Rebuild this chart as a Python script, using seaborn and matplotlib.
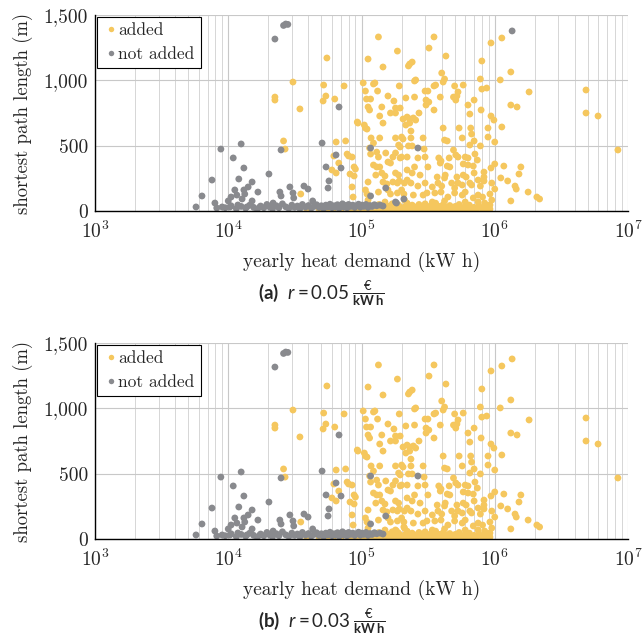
import numpy as np
import pandas as pd
import matplotlib
matplotlib.use("Agg")
import matplotlib.pyplot as plt
import matplotlib.ticker as mticker
import seaborn as sns

# ---------------- data (yearly heat demand in kWh, shortest path length in m) -------------
# points that are added in both scenarios
added_x = [
    55000, 30600, 52000, 74000, 22400, 22400, 54000, 51500, 63000, 34500, 94000, 26000, 26700,
    64500, 76000, 62000, 78000, 80000, 85000, 67500, 60000, 64500, 88000, 90000, 82000, 88000,
    85000, 86500, 35000, 39000,
    1130000, 937000, 1320000, 1100000, 1810000, 4840000, 4840000, 5960000, 8400000, 1320000,
    1470000, 937000, 985000, 1130000, 1000000, 1000000, 937000, 1170000, 1570000, 1520000,
    1110000, 1250000, 1420000, 1450000, 1000000, 1780000, 2070000, 2170000, 1320000, 920000, 920000,
    134000, 350000, 186000, 321000, 112000, 145000, 230000, 240000, 225000, 430000, 800000,
    400000, 420000, 410000, 250000, 255000, 103000, 107000, 126000, 123000, 192000, 300000,
    315000, 350000, 360000, 500000, 580000, 780000, 800000, 870000, 132000, 109000, 117000,
    158000, 215000, 250000, 305000, 320000, 305000, 390000, 490000, 510000, 530000, 520000,
    700000, 630000, 650000, 790000, 175000, 112000, 115000, 142000, 180000, 195000, 165000,
    180000, 137000, 205000, 220000, 230000, 245000, 255000, 270000, 350000, 145000, 105000,
    107000, 93000, 215000, 230000, 410000, 890000, 540000, 660000, 110000, 235000, 180000,
    200000, 205000, 235000, 290000, 118000, 123000, 137000, 420000, 440000, 570000, 670000,
    700000, 890000, 190000, 195000, 225000, 240000, 295000, 650000, 780000, 490000, 117000,
    115000, 130000, 134000, 152000, 172000, 180000, 158000, 165000, 200000, 195000, 220000,
    265000, 300000, 380000, 395000, 390000, 455000, 510000, 530000, 600000, 630000, 710000,
    740000, 580000, 630000, 690000, 460000, 440000, 315000, 250000, 123000, 130000, 137000,
    180000, 190000, 220000, 240000, 275000, 128000, 142000, 150000, 370000, 425000, 420000,
    520000, 580000, 610000, 700000, 830000, 830000, 112000, 145000, 155000, 172000, 186000,
    192000, 210000, 220000, 235000, 265000, 300000, 340000, 375000, 400000, 475000, 500000,
    530000, 570000, 650000, 670000, 750000, 780000, 830000, 950000, 107000, 110000, 134000,
    158000, 165000, 186000, 200000, 208000, 245000, 290000, 310000, 355000, 395000, 445000,
    500000, 570000, 600000, 690000, 750000, 810000, 112000, 150000, 210000, 340000, 420000,
    600000, 750000, 840000, 950000,
    40000, 48000, 55000, 62000, 70000, 78000, 85000, 92000, 98000, 102000, 106000, 110000,
    114000, 118000, 122000, 126000, 130000, 135000, 140000, 145000, 150000, 155000, 160000,
    165000, 170000, 175000, 180000, 185000, 190000, 195000, 200000, 210000, 215000, 220000,
    225000, 232000, 240000, 248000, 255000, 262000, 270000, 278000, 285000, 292000, 300000,
    310000, 320000, 330000, 340000, 350000, 360000, 372000, 385000, 398000, 410000, 422000,
    435000, 448000, 460000, 475000, 490000, 505000, 520000, 540000, 560000, 580000, 600000,
    620000, 645000, 670000, 700000, 730000, 760000, 800000, 840000, 880000, 920000,
]
added_y = [
    1171, 987, 964, 957, 872, 849, 880, 842, 857, 781, 673, 536, 474,
    528, 536, 421, 436, 421, 413, 367, 314, 291, 337, 321, 283, 268,
    184, 107, 130, 5,
    1324, 1286, 1064, 1003, 911, 926, 750, 727, 467, 811,
    796, 727, 696, 643, 528, 360, 329, 344, 337, 283,
    253, 230, 191, 168, 168, 145, 107, 92, 77, 130, 46,
    1332, 1332, 1224, 1247, 1163, 1102, 1125, 1140, 1110, 1186, 1148,
    1056, 1010, 987, 995, 1003, 980, 918, 980, 972, 957, 918,
    918, 957, 964, 957, 964, 1010, 933, 941, 918, 857, 857,
    880, 865, 872, 849, 834, 811, 872, 872, 849, 911, 880,
    849, 811, 742, 773, 842, 796, 773, 796, 788, 788, 750,
    750, 727, 704, 719, 704, 712, 696, 750, 773, 673, 658,
    635, 681, 658, 673, 635, 635, 635, 635, 627, 612, 559,
    566, 551, 559, 559, 559, 520, 559, 543, 536, 559, 589,
    536, 566, 505, 490, 498, 498, 474, 505, 498, 467, 436,
    482, 451, 413, 444, 413, 444, 375, 367, 413, 406, 413,
    406, 413, 406, 383, 367, 406, 429, 413, 413, 406, 436,
    390, 360, 352, 344, 337, 344, 337, 337, 352, 337, 337,
    291, 275, 314, 291, 275, 275, 291, 268, 260, 275, 253,
    260, 275, 260, 291, 298, 260, 222, 222, 207, 222, 214,
    230, 214, 237, 214, 191, 214, 184, 214, 191, 214, 176,
    214, 199, 214, 199, 237, 191, 230, 214, 161, 130, 145,
    161, 130, 138, 161, 130, 122, 122, 138, 138, 145, 107,
    138, 122, 145, 100, 122, 107, 84, 69, 84, 69, 77,
    69, 69, 61, 84,
    8, 15, 5, 20, 10, 25, 8, 18, 30, 5, 15, 40,
    10, 25, 5, 35, 15, 50, 8, 25, 12, 40, 5,
    20, 55, 10, 30, 15, 45, 5, 25, 12, 38, 60,
    8, 22, 45, 15, 30, 5, 50, 20, 35, 10, 55,
    25, 8, 40, 15, 28, 60, 10, 35, 20, 48, 5,
    30, 15, 42, 22, 8, 35, 15, 50, 25, 10, 38,
    18, 45, 8, 28, 15, 40, 20, 10, 30, 15,
]

# points that are not added in either scenario
not_added_x = [
    27000, 26000, 28000, 22400, 8800, 12500, 10900, 13100, 7550, 6350, 5730, 7940, 20200,
    24900, 50600, 67800, 64400, 54200, 70200, 57000, 56100, 12000, 15100, 14100, 11200,
    13100, 16700, 11600, 13300, 10500, 10000, 12700, 15100, 9000, 8200, 10300, 11800,
    13800, 17300, 21700, 24400, 24900, 29000, 30600, 37000, 39700, 31000, 43000, 117000,
    265000, 152000, 117000,
    9500, 10500, 11500, 12500, 13500, 14500, 15500, 16500, 17500, 18500, 19500, 20500,
    21500, 23000, 24000, 25500, 27000, 28500, 30000, 31500, 33000, 34500, 36000, 38000,
    40000, 42000, 44000, 46000, 48000, 50000, 52000, 54000, 56000, 58000, 60000, 62000,
    64000, 66000, 68000, 70000, 72000, 74000, 76000, 78000, 80000, 83000, 86000, 89000,
    92000, 95000, 98000, 101000, 104000, 108000, 112000, 116000, 120000, 125000, 130000,
    138000, 145000,
]
not_added_y = [
    1431, 1420, 1428, 1316, 474, 513, 406, 329, 237, 115, 31, 61, 283,
    467, 520, 796, 429, 337, 329, 230, 176, 245, 222, 184, 161,
    161, 145, 122, 130, 107, 77, 92, 77, 31, 23, 31, 46,
    31, 31, 61, 145, 115, 184, 138, 191, 168, 100, 77, 482,
    482, 176, 115,
    25, 40, 18, 35, 22, 45, 28, 15, 38, 25, 50, 30,
    18, 40, 25, 55, 32, 20, 45, 28, 38, 18, 50, 30,
    42, 22, 35, 48, 28, 40, 20, 45, 32, 52, 25, 40,
    30, 48, 22, 38, 55, 30, 42, 25, 50, 35, 45, 28,
    40, 52, 30, 45, 35, 50, 28, 42, 35, 48, 40,
    45, 38,
]

# points not added for r = 0.05 but added for r = 0.03
switched_x = [1350000, 208000, 180000, 183000]
switched_y = [1378, 92, 69, 61]

panel_labels = ["(a)", "(b)"]
rates = ["0.05", "0.03"]
status_order = ["added", "not added"]
status_colors = ["#F5C75E", "#898A8E"]

# ---------------- build tables ----------------
def panel_frame(switched_status):
    parts = [
        pd.DataFrame({"demand": added_x, "length": added_y, "status": "added"}),
        pd.DataFrame({"demand": switched_x, "length": switched_y, "status": switched_status}),
        pd.DataFrame({"demand": not_added_x, "length": not_added_y, "status": "not added"}),
    ]
    df = pd.concat(parts, ignore_index=True)
    df["order"] = df["status"].map({"added": 0, "not added": 1})
    return df.sort_values("order", kind="stable")

frames = [panel_frame("not added"), panel_frame("added")]

# ---------------- style ----------------
sns.set_theme(style="white")
plt.rcParams["font.family"] = ["cmr10", "DejaVu Serif"]
plt.rcParams["mathtext.fontset"] = "cm"
plt.rcParams["axes.formatter.use_mathtext"] = True
plt.rcParams["mathtext.rm"] = "Lato"
plt.rcParams["mathtext.it"] = "Lato:italic"
plt.rcParams["mathtext.bf"] = "Lato:bold"

fig = plt.figure(figsize=(6.43, 6.40), dpi=100)
axes_rects = [
    [95 / 643, 1 - 211 / 640, 533 / 643, 196 / 640],
    [95 / 643, 1 - 539 / 640, 533 / 643, 196 / 640],
]
caption_y = [1 - 293 / 640, 1 - 621 / 640]

palette = dict(zip(status_order, status_colors))

for i, (rect, df) in enumerate(zip(axes_rects, frames)):
    ax = fig.add_axes(rect)
    sns.scatterplot(data=df, x="demand", y="length", hue="status", hue_order=status_order,
                    palette=palette, s=24, linewidth=0, alpha=1.0, ax=ax, zorder=3)
    ax.set_xscale("log")
    ax.set_xlim(1e3, 1e7)
    ax.set_ylim(0, 1500)
    ax.xaxis.set_major_locator(mticker.LogLocator(base=10, numticks=10))
    ax.xaxis.set_minor_locator(mticker.LogLocator(base=10, subs=np.arange(2, 10), numticks=50))
    ax.xaxis.set_minor_formatter(mticker.NullFormatter())
    ax.yaxis.set_major_locator(mticker.MultipleLocator(500))
    ax.yaxis.set_major_formatter(mticker.FuncFormatter(lambda v, p: f"{v:,.0f}"))
    ax.grid(True, which="major", axis="both", color="#c8c8c8", linewidth=0.8, zorder=0)
    ax.grid(True, which="minor", axis="x", color="#d6d6d6", linewidth=0.7, zorder=0)
    ax.set_axisbelow(True)
    for side in ["top", "right"]:
        ax.spines[side].set_visible(False)
    for side in ["left", "bottom"]:
        ax.spines[side].set_color("black")
        ax.spines[side].set_linewidth(1.0)
        ax.spines[side].set_zorder(4)
    ax.tick_params(axis="both", which="both", length=0, labelsize=14)
    ax.tick_params(axis="x", pad=7)
    ax.tick_params(axis="y", pad=5)
    ax.set_xlabel("yearly heat demand (kW h)", fontsize=14, labelpad=7)
    ax.set_ylabel("shortest path length (m)", fontsize=13.5, labelpad=8)
    sns.move_legend(ax, "upper left", title=None, frameon=True, fancybox=False,
                    edgecolor="black", framealpha=1, borderaxespad=0.1, fontsize=12.5,
                    handletextpad=0.0, borderpad=0.35, labelspacing=0.5, markerscale=0.8,
                    handlelength=0.9)
    leg = ax.get_legend()
    leg.get_frame().set_linewidth(0.8)
    leg.set_zorder(5)

    fig.text(0.5, caption_y[i],
             r"$\mathbf{" + panel_labels[i] + r"}\ \ r = " + rates[i] +
             r"\ \frac{€}{\mathbf{kW\,h}}$",
             ha="center", va="center", fontsize=13.5, math_fontfamily="custom")

fig.savefig("out.png", dpi=100)
